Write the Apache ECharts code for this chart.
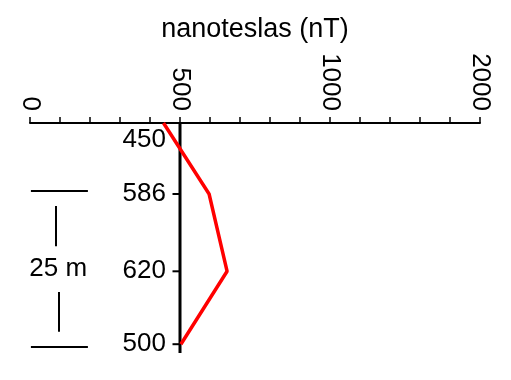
<!DOCTYPE html>
<html><head><meta charset="utf-8">
<script src="https://cdn.jsdelivr.net/npm/echarts@6/dist/echarts.min.js"></script>
<style>html,body{margin:0;padding:0;background:#fff}#c{width:511px;height:380px}</style>
</head><body><div id="c"></div>
<script>
// data
const stationLabels = ['450', '586', '620', '500'];
const fieldValues = [445, 597, 657, 503];      // nT, as drawn
const depths = [0, 11.3, 23.6, 35.2];           // m below top
const tickValues = [0, 500, 1000, 1500];
const tickLabels = ['0', '500', '1000', '2000'];
const baseValue = 500;
const depthMax = 36.6;
const scaleTop = 10.8, scaleBottom = 35.6, scaleLabel = '25 m';

const FONT = 'Liberation Sans, Arial, sans-serif';
const chart = echarts.init(document.getElementById('c'));

const lineData = fieldValues.map((v, i) => [v, depths[i]]);
const labelData = stationLabels.map((s, i) => ({
  value: [baseValue, depths[i]], name: s,
  label: i === 0 ? { offset: [0, 17] } : {}
}));
const tickData = depths.slice(1).map(d => [baseValue, d]);

chart.setOption({
  animation: false,
  grid: { left: 30, right: 31, top: 123, bottom: 27, containLabel: false, outerBoundsMode: 'none' },
  xAxis: {
    type: 'value', position: 'top', min: 0, max: 1500, interval: 100,
    name: 'nanoteslas (nT)', nameLocation: 'middle', nameGap: 80, nameMoveOverlap: false,
    nameTextStyle: { fontFamily: FONT, fontSize: 27, color: '#000' },
    axisLine: { show: true, onZero: false, lineStyle: { color: '#000', width: 2 } },
    axisTick: { show: true, length: 6, lineStyle: { color: '#000', width: 1.5 } },
    splitLine: { show: false },
    axisLabel: {
      rotate: 90, margin: 12, fontFamily: FONT, fontSize: 26, color: '#000',
      formatter: v => { const k = tickValues.indexOf(v); return k >= 0 ? tickLabels[k] : ''; }
    }
  },
  yAxis: { type: 'value', inverse: true, min: 0, max: depthMax, show: false },
  series: [
    { type: 'line', data: [[baseValue, 0], [baseValue, depthMax]], symbol: 'none',
      lineStyle: { color: '#000', width: 3 }, z: 2 },
    { type: 'scatter', data: tickData, symbol: 'rect', symbolSize: [7, 2], symbolOffset: [-4, 0],
      itemStyle: { color: '#000', opacity: 1 }, z: 2 },
    { type: 'scatter', data: labelData, symbolSize: 0, itemStyle: { opacity: 1 },
      label: { show: true, position: 'left', distance: 14, formatter: p => p.name,
        fontFamily: FONT, fontSize: 26, color: '#000' }, z: 3 },
    { type: 'line', data: lineData, symbol: 'none',
      lineStyle: { color: '#ff0000', width: 3.5 }, z: 4 },
    { type: 'lines', coordinateSystem: 'cartesian2d', polyline: false,
      lineStyle: { color: '#000', width: 2, opacity: 1 },
      data: [
        { coords: [[3, scaleTop], [193, scaleTop]] },
        { coords: [[3, scaleBottom], [193, scaleBottom]] },
        { coords: [[87, scaleTop + 2.4], [87, scaleTop + 8.8]] },
        { coords: [[95, scaleBottom - 8.7], [95, scaleBottom - 2.4]] }
      ] },
    { type: 'scatter', data: [[94, (scaleTop + scaleBottom) / 2]], symbolSize: 0, itemStyle: { opacity: 1 },
      label: { show: true, position: 'inside', formatter: scaleLabel,
        fontFamily: FONT, fontSize: 26, color: '#000' } }
  ]
});
</script></body></html>
